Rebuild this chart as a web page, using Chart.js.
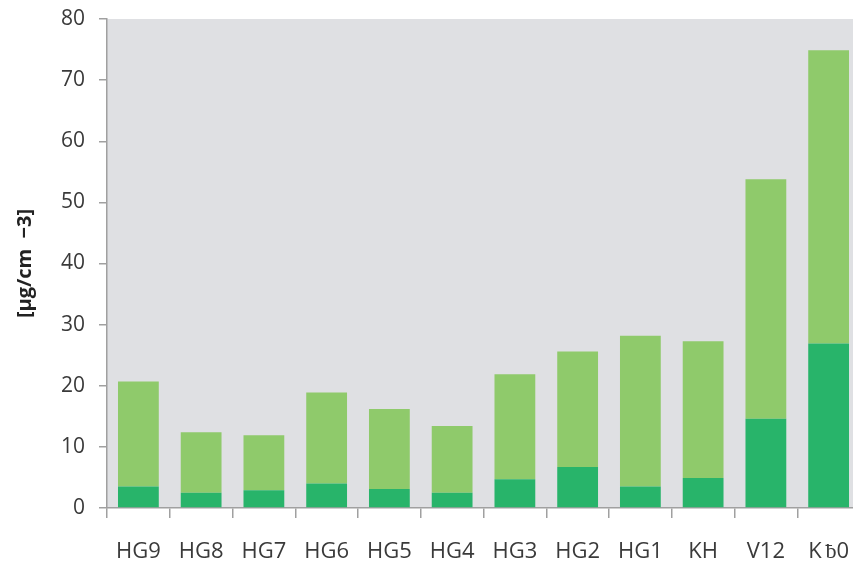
<!DOCTYPE html>
<html>
<head>
<meta charset="utf-8">
<script src="https://cdn.jsdelivr.net/npm/chart.js@4"></script>
<style>
  html, body { margin: 0; padding: 0; background: #fff; overflow: hidden; }
  canvas { display: block; }
</style>
</head>
<body>
<canvas id="chart" width="860" height="572" style="width:860px;height:572px"></canvas>
<script>
const sites = ["HG9", "HG8", "HG7", "HG6", "HG5", "HG4", "HG3", "HG2", "HG1", "KH", "V12", "K\u2009\u01800"];
const lowerPart = [3.5, 2.5, 2.9, 4.0, 3.1, 2.5, 4.7, 6.7, 3.5, 4.9, 14.6, 26.9];
const upperPart = [17.2, 9.9, 9.0, 14.9, 13.1, 10.9, 17.2, 18.9, 24.7, 22.4, 39.2, 48.0];
const yTicks = [0, 10, 20, 30, 40, 50, 60, 70, 80];

const plotBg = {
    id: "plotBg",
    beforeDraw(chart) {
        const { ctx, chartArea: a } = chart;
        ctx.save();
        ctx.fillStyle = "#dfe0e3";
        ctx.fillRect(a.left, a.top, a.right - a.left, a.bottom - a.top);
        ctx.restore();
    }
};

const ctx = document.getElementById("chart").getContext("2d");
new Chart(ctx, {
    type: "bar",
    data: {
        labels: sites,
        datasets: [
            { data: lowerPart, backgroundColor: "#28b46a", barPercentage: 0.65, categoryPercentage: 1 },
            { data: upperPart, backgroundColor: "#8fca6b", barPercentage: 0.65, categoryPercentage: 1 }
        ]
    },
    options: {
        responsive: false,
        animation: false,
        layout: { padding: { top: 19, left: 13, right: 0, bottom: 0 } },
        plugins: { legend: { display: false }, tooltip: { enabled: false } },
        scales: {
            x: {
                stacked: true,
                afterFit(scale) { scale.height = 64; scale.paddingLeft = 0; scale.paddingRight = 0; },
                border: { color: "#a0a0a0", width: 1.5 },
                grid: { drawOnChartArea: false, drawTicks: true, tickLength: 10, color: "#a0a0a0", lineWidth: 1.5 },
                ticks: { color: "#3a3a3a", font: { family: "Open Sans", size: 22 }, padding: 21 }
            },
            y: {
                stacked: true,
                min: 0,
                max: 80,
                afterBuildTicks(axis) { axis.ticks = yTicks.map(v => ({ value: v })); },
                afterFit(scale) { scale.paddingTop = 0; scale.paddingBottom = 0; },
                border: { color: "#a0a0a0", width: 1.5 },
                grid: { drawOnChartArea: false, drawTicks: true, tickLength: 8, color: "#a0a0a0", lineWidth: 1.5 },
                ticks: { color: "#3a3a3a", font: { family: "Open Sans", size: 21 }, padding: 14 },
                title: {
                    display: true,
                    text: "[\u00b5g/cm  \u22123]",
                    color: "#222",
                    font: { family: "Open Sans", size: 20, weight: "bold" },
                    padding: { top: 0, bottom: 10 }
                }
            }
        }
    },
    plugins: [plotBg]
});
</script>
</body>
</html>
